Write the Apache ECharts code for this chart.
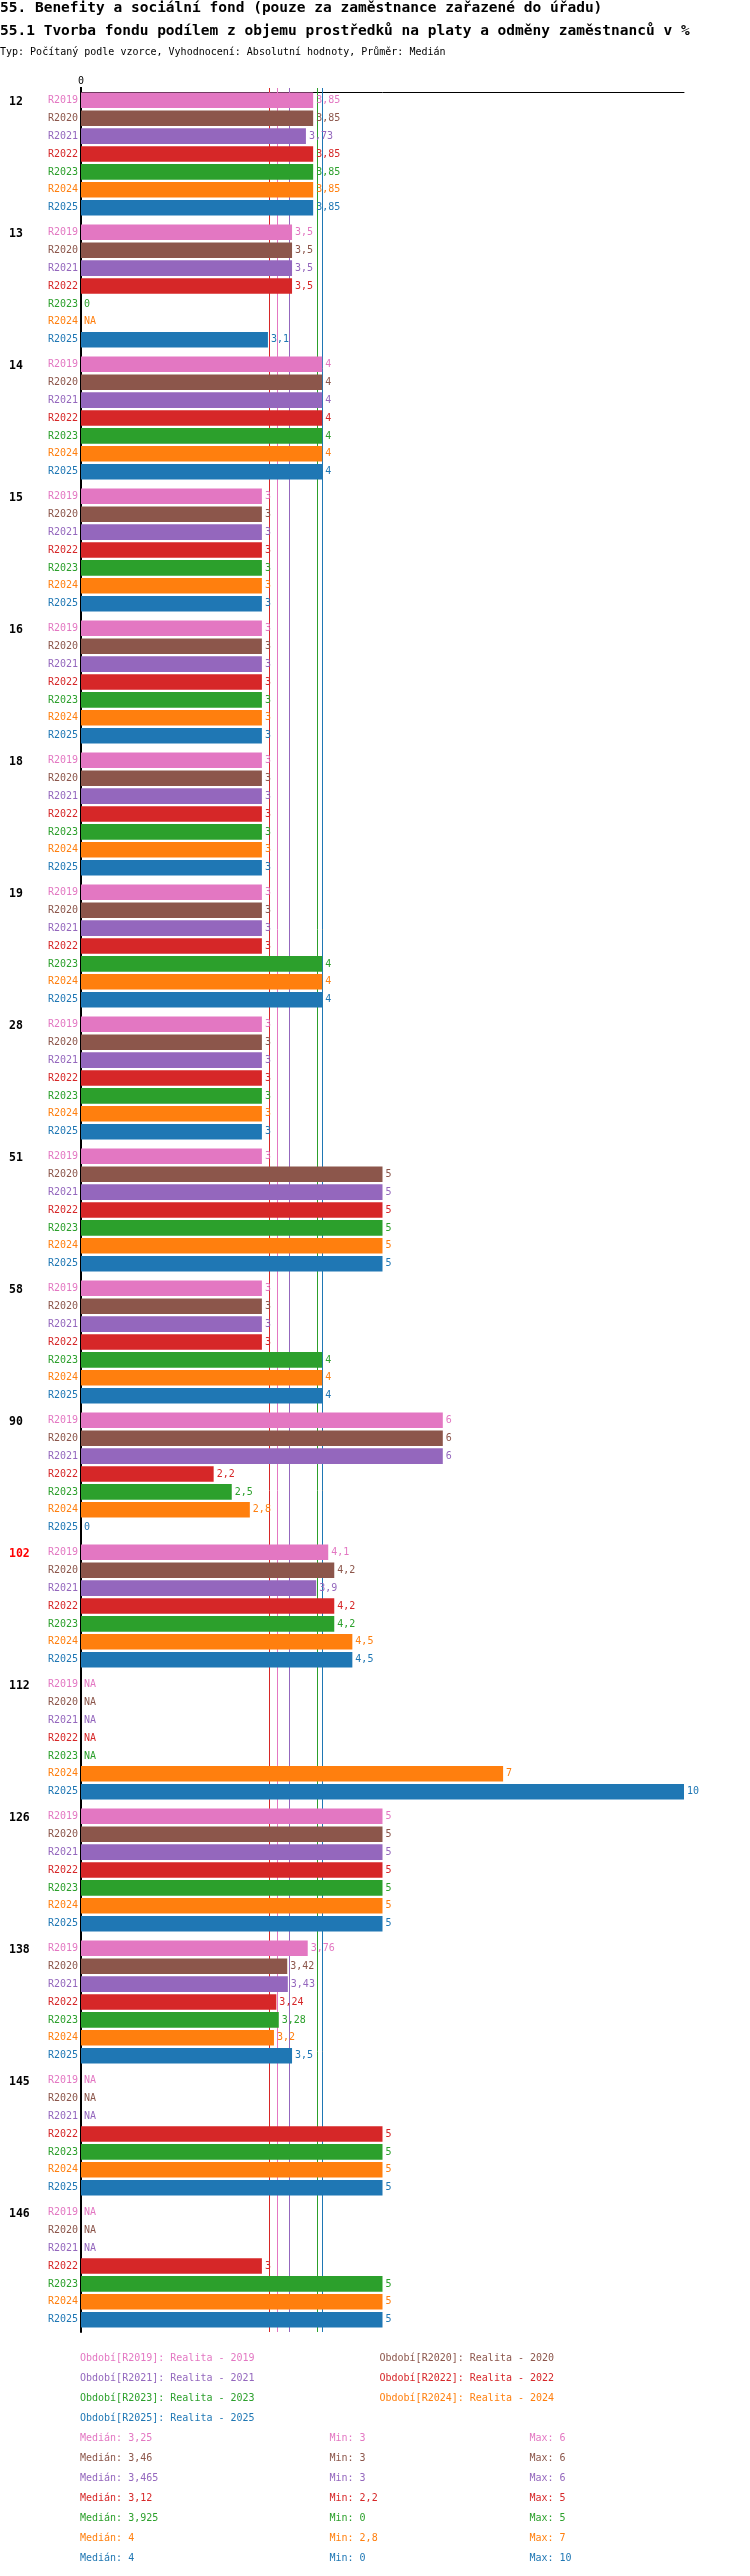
<!DOCTYPE html>
<html lang="cs">
<head>
    <meta charset="UTF-8">
    <title>55.1 Tvorba fondu</title>
    <script src="https://cdn.jsdelivr.net/npm/echarts@6/dist/echarts.min.js"></script>
    <style>
        html, body { margin: 0; padding: 0; background: #fff; }
        #chart { width: 750px; height: 2576px; }
    </style>
</head>
<body>
    <div id="chart"></div>
    <script>
        // skupiny (úřady) a období
        const groups = ['12', '13', '14', '15', '16', '18', '19', '28', '51', '58', '90', '102', '112', '126', '138', '145', '146'];
        const highlightGroup = '102';
        const periods = ['R2019', 'R2020', 'R2021', 'R2022', 'R2023', 'R2024', 'R2025'];
        const periodNames = ['Realita - 2019', 'Realita - 2020', 'Realita - 2021', 'Realita - 2022', 'Realita - 2023', 'Realita - 2024', 'Realita - 2025'];
        const colors = ['#e377c2', '#8c564b', '#9467bd', '#d62728', '#2ca02c', '#ff7f0e', '#1f77b4'];

        // hodnoty, null = NA
        const r2019 = [3.85, 3.5, 4, 3, 3, 3, 3, 3, 3, 3, 6, 4.1, null, 5, 3.76, null, null];
        const r2020 = [3.85, 3.5, 4, 3, 3, 3, 3, 3, 5, 3, 6, 4.2, null, 5, 3.42, null, null];
        const r2021 = [3.73, 3.5, 4, 3, 3, 3, 3, 3, 5, 3, 6, 3.9, null, 5, 3.43, null, null];
        const r2022 = [3.85, 3.5, 4, 3, 3, 3, 3, 3, 5, 3, 2.2, 4.2, null, 5, 3.24, 5, 3];
        const r2023 = [3.85, 0, 4, 3, 3, 3, 4, 3, 5, 4, 2.5, 4.2, null, 5, 3.28, 5, 5];
        const r2024 = [3.85, null, 4, 3, 3, 3, 4, 3, 5, 4, 2.8, 4.5, 7, 5, 3.2, 5, 5];
        const r2025 = [3.85, 3.1, 4, 3, 3, 3, 4, 3, 5, 4, 0, 4.5, 10, 5, 3.5, 5, 5];
        const values = [r2019, r2020, r2021, r2022, r2023, r2024, r2025];

        // souhrny
        const medians = [3.25, 3.46, 3.465, 3.12, 3.925, 4, 4];
        const mins = [3, 3, 3, 2.2, 0, 2.8, 0];
        const maxs = [6, 6, 6, 5, 5, 7, 10];

        const FONT = '"DejaVu Sans Mono", "Liberation Mono", monospace';
        const fmt = v => String(v).replace('.', ',');

        const series = [];
        periods.forEach((p, i) => {
            // neviditelný sloupec jen kvůli popisku období vlevo
            series.push({
                type: 'bar',
                name: p + '_label',
                stack: p,
                silent: true,
                data: groups.map(() => 0),
                itemStyle: { color: 'transparent' },
                barGap: '15%',
                barCategoryGap: '6.8%',
                label: {
                    show: true,
                    position: 'left',
                    distance: 3,
                    formatter: p,
                    color: colors[i],
                    fontSize: 10,
                    fontFamily: FONT
                }
            });
            series.push({
                type: 'bar',
                name: p,
                stack: p,
                silent: true,
                z: 2,
                data: values[i].map(v => v == null ? 0 : v),
                itemStyle: { color: colors[i] },
                barGap: '15%',
                barCategoryGap: '6.8%',
                label: {
                    show: true,
                    position: 'right',
                    distance: 3,
                    color: colors[i],
                    fontSize: 10,
                    fontFamily: FONT,
                    formatter: params => {
                        const v = values[i][params.dataIndex];
                        return v == null ? 'NA' : fmt(v);
                    }
                },
                markLine: {
                    silent: true,
                    symbol: 'none',
                    z: 1,
                    animation: false,
                    label: { show: false },
                    lineStyle: { color: colors[i], width: 1, type: 'solid' },
                    emphasis: { disabled: true },
                    data: [{ xAxis: medians[i] }]
                }
            });
        });

        // texty nahoře a dole
        const graphics = [
            { type: 'text', x: 0, y: 8.5, style: { text: '55. Benefity a sociální fond (pouze za zaměstnance zařazené do úřadu)', fill: '#000', fontSize: 14.5, fontWeight: 'bold', fontFamily: FONT, verticalAlign: 'middle' } },
            { type: 'text', x: 0, y: 31, style: { text: '55.1 Tvorba fondu podílem z objemu prostředků na platy a odměny zaměstnanců v %', fill: '#000', fontSize: 14.5, fontWeight: 'bold', fontFamily: FONT, verticalAlign: 'middle' } },
            { type: 'text', x: 0, y: 52, style: { text: 'Typ: Počítaný podle vzorce, Vyhodnocení: Absolutní hodnoty, Průměr: Medián', fill: '#000', fontSize: 10, fontFamily: FONT, verticalAlign: 'middle' } }
        ];
        periods.forEach((p, i) => {
            graphics.push({
                type: 'text',
                x: i % 2 ? 379.5 : 80,
                y: 2358 + Math.floor(i / 2) * 20,
                style: { text: 'Období[' + p + ']: ' + periodNames[i], fill: colors[i], fontSize: 10, fontFamily: FONT, verticalAlign: 'middle' }
            });
            const y = 2438.5 + i * 20;
            graphics.push({ type: 'text', x: 80, y: y, style: { text: 'Medián: ' + fmt(medians[i]), fill: colors[i], fontSize: 10, fontFamily: FONT, verticalAlign: 'middle' } });
            graphics.push({ type: 'text', x: 329.5, y: y, style: { text: 'Min: ' + fmt(mins[i]), fill: colors[i], fontSize: 10, fontFamily: FONT, verticalAlign: 'middle' } });
            graphics.push({ type: 'text', x: 529.5, y: y, style: { text: 'Max: ' + fmt(maxs[i]), fill: colors[i], fontSize: 10, fontFamily: FONT, verticalAlign: 'middle' } });
        });

        const chart = echarts.init(document.getElementById('chart'), null, { renderer: 'canvas' });
        chart.setOption({
            animation: false,
            backgroundColor: '#fff',
            textStyle: { fontFamily: FONT },
            grid: { left: 81, right: 66, top: 88, height: 2244, containLabel: false },
            xAxis: {
                type: 'value',
                position: 'top',
                min: 0,
                max: 10,
                offset: -4,
                splitLine: { show: false },
                axisLine: { show: true, lineStyle: { color: '#000', width: 1 } },
                axisTick: { show: true, customValues: [0], length: 5, lineStyle: { color: '#000', width: 2 } },
                axisLabel: { customValues: [0], margin: 6, color: '#000', fontSize: 10, fontFamily: FONT }
            },
            yAxis: {
                type: 'category',
                inverse: true,
                data: groups,
                axisLine: { show: true, onZero: false, lineStyle: { color: '#000', width: 2 } },
                axisTick: { show: false },
                axisLabel: {
                    align: 'left',
                    verticalAlign: 'middle',
                    margin: 72,
                    // číslo skupiny zarovnat k prvnímu řádku (R2019)
                    formatter: v => '{' + (v === highlightGroup ? 'hi' : 'g') + '|' + v + '}\n{sp| }',
                    rich: {
                        g: { fontSize: 11.5, fontWeight: 'bold', fontFamily: FONT, color: '#000', lineHeight: 12 },
                        hi: { fontSize: 11.5, fontWeight: 'bold', fontFamily: FONT, color: '#ff0000', lineHeight: 12 },
                        sp: { fontSize: 1, lineHeight: 104, height: 104 }
                    }
                }
            },
            series: series,
            graphic: graphics
        });
    </script>
</body>
</html>
